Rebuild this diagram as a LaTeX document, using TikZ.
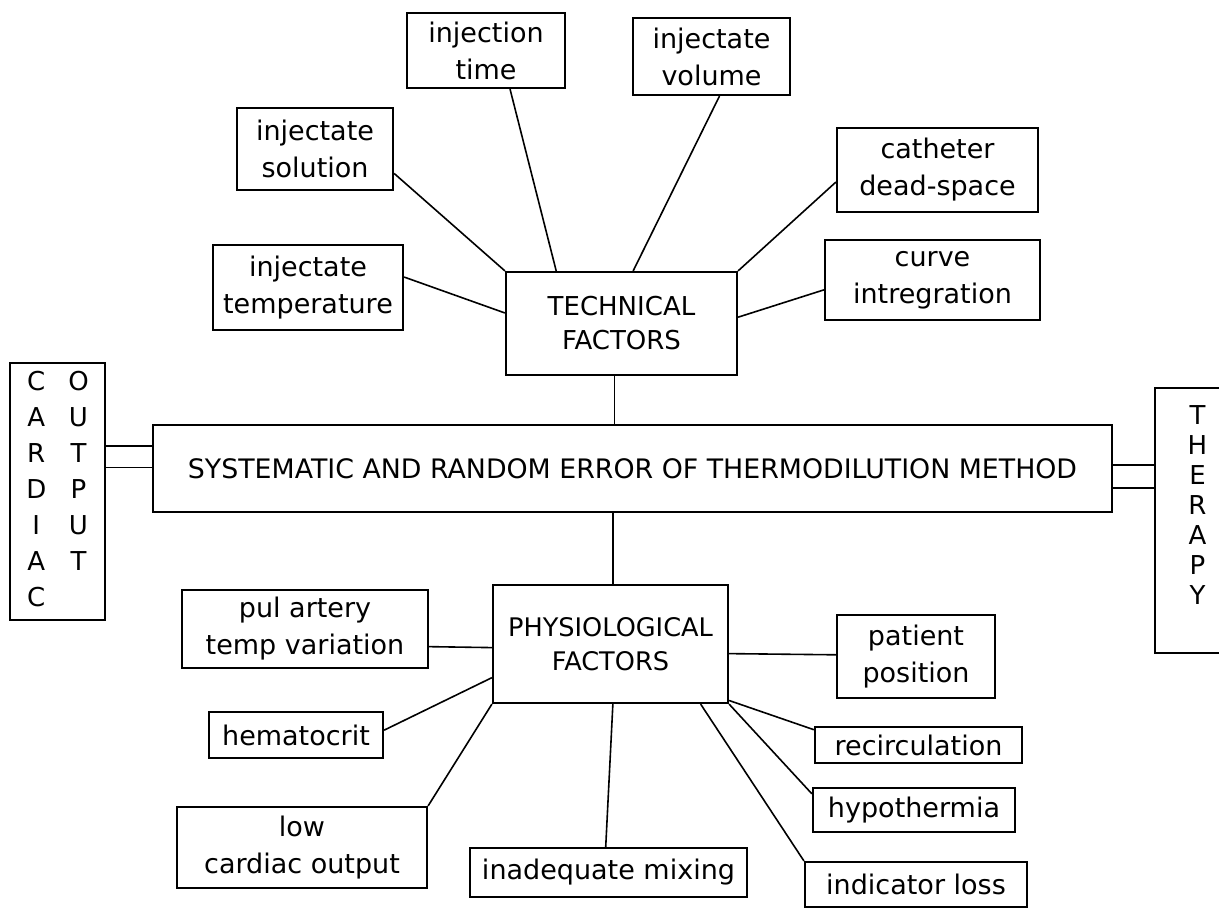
\documentclass[tikz,border=0pt]{standalone}
\usepackage{fontspec}
\setmainfont{DejaVu Sans}
\usetikzlibrary{calc}
\begin{document}
\begin{tikzpicture}[x=0.5pt,y=-0.5pt,
  bx/.style={draw, line width=1.1pt, inner sep=0pt, align=center, font=\fontsize{13.5}{18.5}\selectfont},
  capbox/.style={bx, font=\fontsize{13}{17}\selectfont},
  sz/.style 2 args={minimum width={#1*0.5pt}, minimum height={#2*0.5pt}},
  ln/.style={line width=0.8pt}]
\useasboundingbox (0,0) rectangle (1219,909);
\clip (0,0) rectangle (1219,909);
\fill[white] (0,0) rectangle (1219,909);
% main boxes
\node[capbox, font=\fontsize{13.4}{17}\selectfont, sz={959}{87}] (mb) at (632.5,468.5) {SYSTEMATIC AND RANDOM ERROR OF THERMODILUTION METHOD};
\node[capbox, sz={231}{103}] (tf) at (621.5,323.5) {TECHNICAL\\FACTORS};
\node[capbox, font=\fontsize{12.8}{17}\selectfont, sz={235}{118}] (pf) at (610.5,644) {PHYSIOLOGICAL\\FACTORS};
\node[capbox, font=\fontsize{13}{18}\selectfont, sz={95}{257}] (co) at (57.5,491.5)
  {\begin{tabular}{@{}c@{\hspace{11pt}}c@{}}C&O\\A&U\\R&T\\D&P\\I&U\\A&T\\C&\end{tabular}};
\node[capbox, font=\fontsize{13}{15}\selectfont, sz={85}{265}] (th) at (1197.5,520.5) {T\\H\\E\\R\\A\\P\\Y\\~};
% technical factors
\node[bx, sz={158}{75}] (it) at (486,50.5) {injection\\time};
\node[bx, sz={157}{77}] (iv) at (711.5,56.5) {injectate\\volume};
\node[bx, sz={156}{82}] (is) at (315,149) {injectate\\solution};
\node[bx, sz={190}{85}] (itp) at (308,287.5) {injectate\\temperature};
\node[bx, sz={201}{84}] (cd) at (937.5,170) {catheter\\dead-space};
\node[bx, sz={215}{80}] (ci) at (932.5,280) {curve\\intregration};
% physiological factors
\node[bx, sz={246}{78}] (pa) at (305,629) {pul artery\\temp variation};
\node[bx, sz={174}{46}] (he) at (296,735) {hematocrit};
\node[bx, sz={250}{81}] (lc) at (302,847.5) {low\\cardiac output};
\node[bx, sz={277}{49}] (im) at (608.5,872.5) {inadequate mixing};
\node[bx, sz={158}{83}] (pp) at (916,656.5) {patient\\position};
\node[bx, sz={207}{36}] (rc) at (918.5,745) {recirculation};
\node[bx, sz={202}{44}] (hy) at (914,810) {hypothermia};
\node[bx, sz={222}{45}] (il) at (916,884.5) {indicator loss};
% connectors technical
\draw[ln] ($(is.south east)!0.21!(is.north east)$) -- (tf.north west);
\draw[ln] ($(itp.north east)!0.38!(itp.south east)$) -- ($(tf.north west)!0.4!(tf.south west)$);
\draw[ln] ($(it.south west)!0.65!(it.south east)$) -- ($(tf.north west)!0.22!(tf.north east)$);
\draw[ln] ($(iv.south west)!0.55!(iv.south east)$) -- ($(tf.north west)!0.55!(tf.north east)$);
\draw[ln] ($(cd.north west)!0.64!(cd.south west)$) -- (tf.north east);
\draw[ln] ($(ci.north west)!0.62!(ci.south west)$) -- ($(tf.north east)!0.44!(tf.south east)$);
% vertical links
\coordinate (a) at ($(tf.south west)!0.47!(tf.south east)$);
\draw[ln] (a) -- (a |- mb.north);
\coordinate (b) at ($(pf.north west)!0.51!(pf.north east)$);
\draw[ln] (b |- mb.south) -- (b);
% side links
\coordinate (c1) at ($(mb.north west)!0.25!(mb.south west)$);
\coordinate (c2) at ($(mb.north west)!0.49!(mb.south west)$);
\draw[ln] (c1) -- (c1 -| co.east);
\draw[ln] (c2) -- (c2 -| co.east);
\coordinate (d1) at ($(mb.north east)!0.46!(mb.south east)$);
\coordinate (d2) at ($(mb.north east)!0.72!(mb.south east)$);
\draw[ln] (d1) -- (d1 -| th.west);
\draw[ln] (d2) -- (d2 -| th.west);
% connectors physiological
\draw[ln] ($(pa.north east)!0.72!(pa.south east)$) -- ($(pf.north west)!0.53!(pf.south west)$);
\draw[ln] ($(he.north east)!0.4!(he.south east)$) -- ($(pf.north west)!0.78!(pf.south west)$);
\draw[ln] (lc.north east) -- (pf.south west);
\draw[ln] ($(im.north west)!0.49!(im.north east)$) -- ($(pf.south west)!0.51!(pf.south east)$);
\draw[ln] ($(pp.north west)!0.48!(pp.south west)$) -- ($(pf.north east)!0.58!(pf.south east)$);
\draw[ln] ($(rc.north west)!0.1!(rc.south west)$) -- ($(pf.north east)!0.97!(pf.south east)$);
\draw[ln] ($(hy.north west)!0.15!(hy.south west)$) -- (pf.south east);
\draw[ln] (il.north west) -- ($(pf.south west)!0.88!(pf.south east)$);
\end{tikzpicture}
\end{document}
